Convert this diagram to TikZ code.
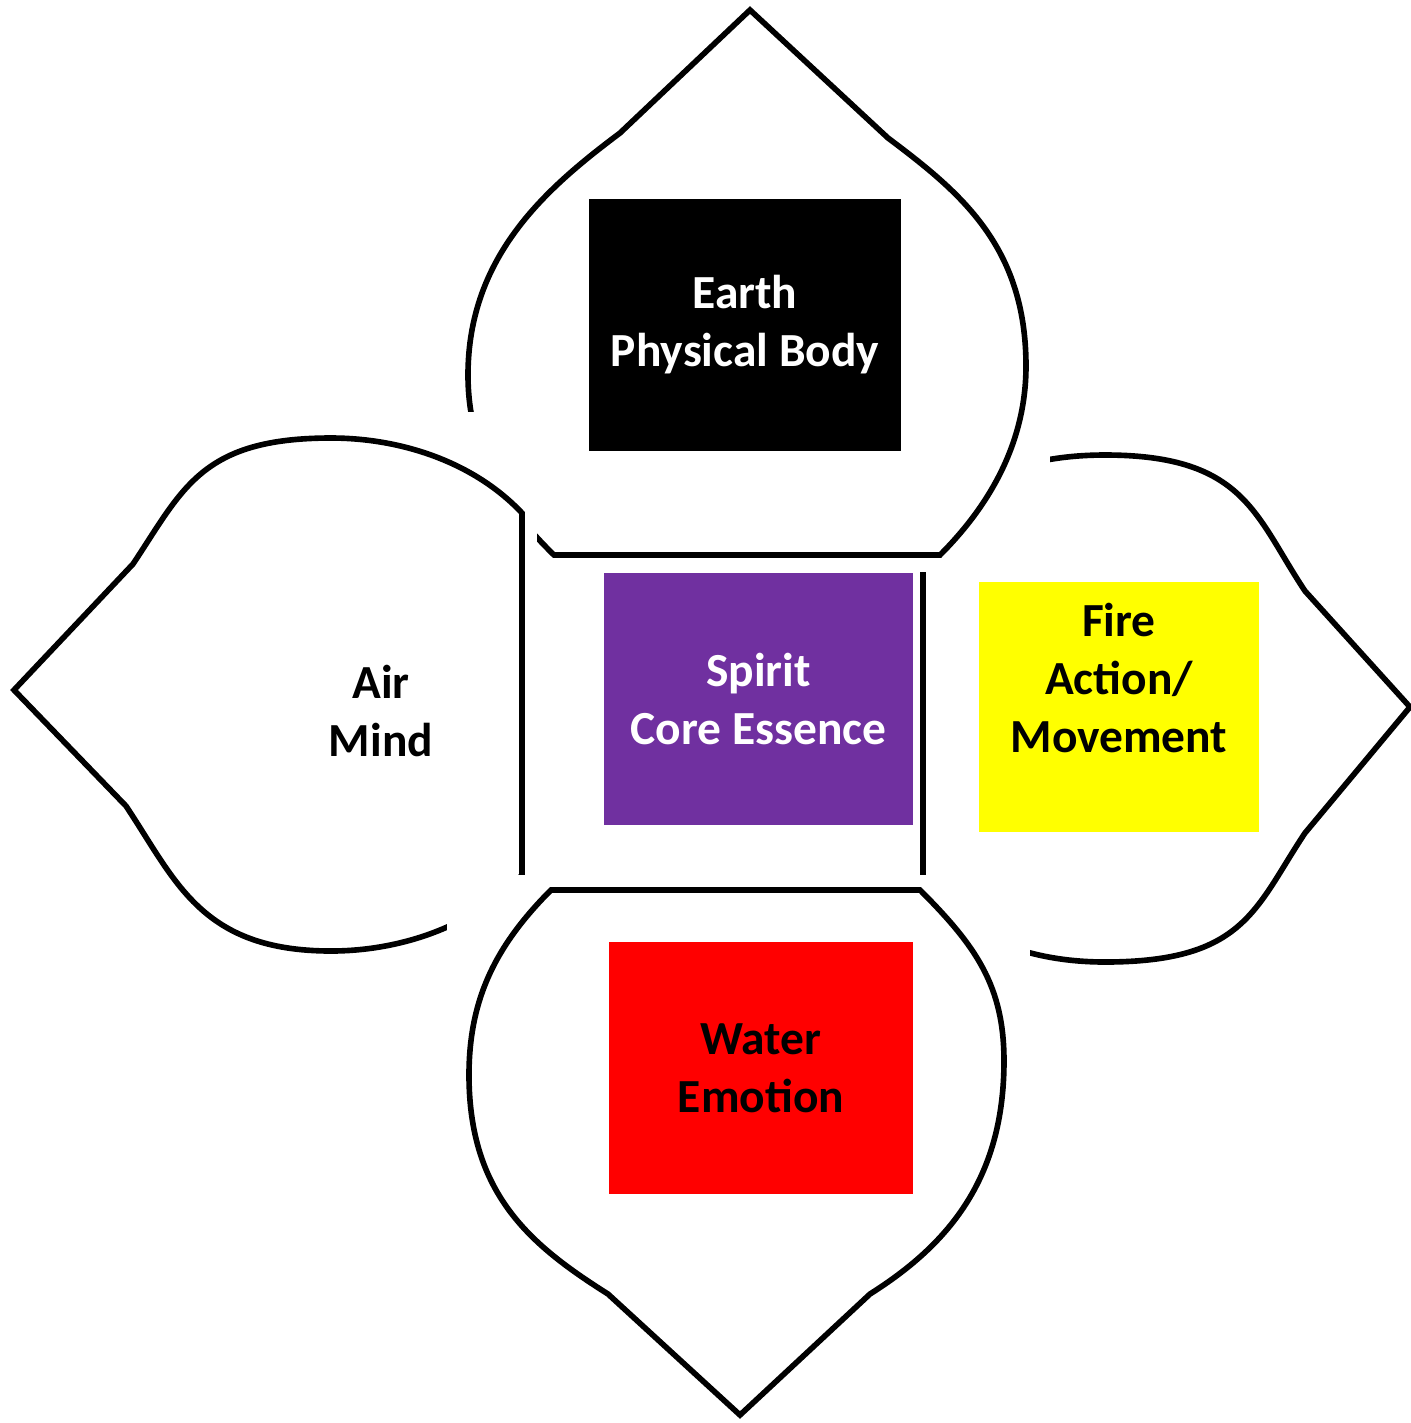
\documentclass[tikz,border=0pt]{standalone}
\usepackage{fontspec}
\setmainfont{Carlito}
\usepackage{xcolor}
\definecolor{spiritpurple}{RGB}{112, 48, 160}
\definecolor{fireyellow}{RGB}{255, 255, 0}
\definecolor{waterred}{RGB}{255, 0, 0}

\begin{document}
\begin{tikzpicture}[
    x=0.01cm, y=-0.01cm,
    petal/.style={draw=black, fill=white, line width=1.6pt, line join=miter},
    sheet/.style={fill=white},
    tile/.style={inner sep=0pt, align=center,
                 font=\fontsize{13.5}{16.5}\selectfont\bfseries},
  ]
  \useasboundingbox[fill=white] (0,0) rectangle (1411,1423);

  % fire petal, right
  \draw[petal] (1410,707) -- (1305,591)
    .. controls (1255,516) and (1245,455) .. (1105,455)
    .. controls (1035,455) and (971,474) .. (923,525)
    -- (923,890)
    .. controls (971,941) and (1035,962) .. (1105,962)
    .. controls (1245,962) and (1255,908) .. (1305,833)
    -- cycle;

  % earth petal, top
  \fill[sheet] (450,0) rectangle (1050,572);
  \draw[petal] (750,10) -- (888,138)
    .. controls (960,192) and (1026,246) .. (1026,366)
    .. controls (1026,440) and (992,503) .. (940,555)
    -- (554,555)
    .. controls (501,503) and (468,449) .. (468,375)
    .. controls (468,255) and (548,187) .. (620,133)
    -- cycle;

  % air petal, left
  \fill[sheet] (0,412) rectangle (537,960);
  \draw[petal] (14,690) -- (133,564)
    .. controls (183,489) and (201,438) .. (331,438)
    .. controls (401,438) and (474,462) .. (522,513)
    -- (522,875)
    .. controls (474,926) and (401,951) .. (331,951)
    .. controls (201,951) and (176,881) .. (126,806)
    -- cycle;

  % water petal, bottom
  \fill[sheet] (447,875) rectangle (1030,1423);
  \draw[petal] (740,1415) -- (870,1294)
    .. controls (946,1246) and (1004,1181) .. (1004,1061)
    .. controls (1004,986) and (976,946) .. (920,890)
    -- (551,890)
    .. controls (495,946) and (469,1000) .. (469,1075)
    .. controls (469,1195) and (532,1246) .. (608,1294)
    -- cycle;

  \node[tile, fill=black, text=white, minimum width=3.12cm,
        minimum height=2.51cm] (earth) at (745,325) {Earth\\Physical Body};
  \node[tile, fill=spiritpurple, text=white, minimum width=3.09cm,
        minimum height=2.52cm] (spirit) at (758.5,699) {Spirit\\Core Essence};
  \node[tile, fill=fireyellow, minimum width=2.80cm,
        minimum height=2.50cm] (fire) at (1119,707) {Fire\\Action/\\Movement\\\mbox{}};
  \node[tile, fill=waterred, minimum width=3.04cm,
        minimum height=2.52cm] (water) at (761,1068) {Water\\Emotion};
  \node[tile] (air) at (381,711) {Air\\Mind};
\end{tikzpicture}
\end{document}
